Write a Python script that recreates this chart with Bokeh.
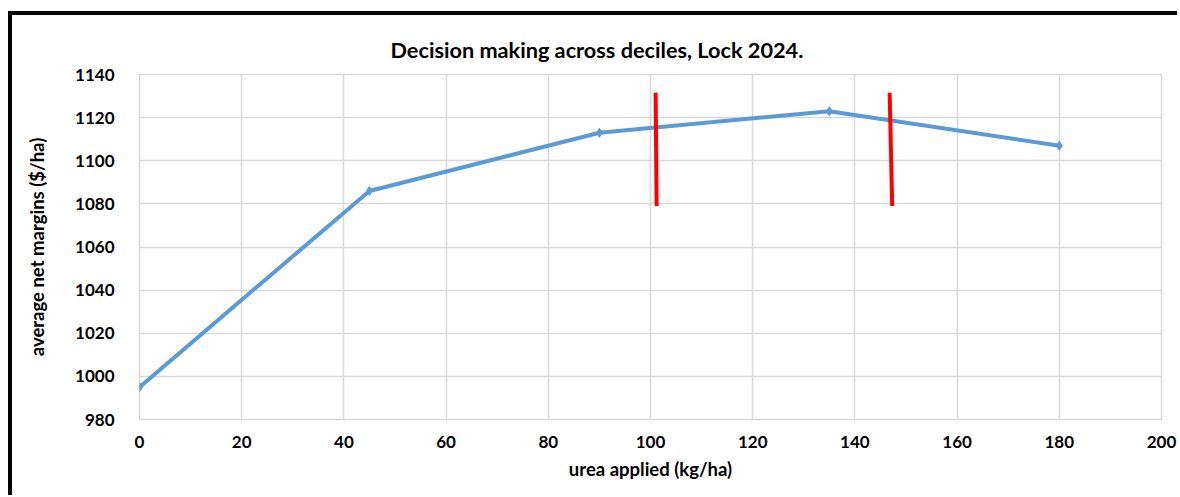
from bokeh.plotting import figure
from bokeh.models import Range1d, FixedTicker
from bokeh.embed import file_html
from bokeh.resources import INLINE

# data
urea = [0, 45, 90, 135, 180]
net_margin = [995, 1086, 1113, 1123, 1107]

# red decision markers
dec_x0 = [101.0, 146.8]
dec_x1 = [101.2, 147.3]
dec_y0 = [1131.5, 1131.5]
dec_y1 = [1079, 1079]

x_ticks = [0, 20, 40, 60, 80, 100, 120, 140, 160, 180, 200]
y_ticks = [980, 1000, 1020, 1040, 1060, 1080, 1100, 1120, 1140]

TITLE = "Decision making across deciles, Lock 2024."
FONT = "Lato"

p = figure(
    frame_width=1022, frame_height=345,
    min_border_left=127, min_border_right=16, min_border_top=59, min_border_bottom=76,
    x_range=Range1d(0, 200), y_range=Range1d(980, 1140),
    output_backend="svg", toolbar_location=None,
    title=TITLE,
)
p.styles = {"border-left": "4px solid black", "border-top": "4px solid black"}
p.margin = (11, 0, 0, 8)

p.title.align = "left"
p.title.offset = 251
p.title.vertical_align = "top"
p.title.text_font = FONT
p.title.text_font_size = "21.7px"
p.title.text_font_style = "bold"
p.title.text_color = "#000000"
p.title.standoff = 20

p.outline_line_color = "#d9d9d9"
p.outline_line_width = 1.5
for ax in (p.xaxis, p.yaxis):
    ax.axis_line_color = None
    ax.major_tick_line_color = None
    ax.minor_tick_line_color = None
    ax.major_label_text_font = FONT
    ax.major_label_text_font_style = "bold"
    ax.major_label_text_font_size = "17px"
    ax.major_label_text_color = "#000000"
    ax.axis_label_text_font = FONT
    ax.axis_label_text_font_style = "bold"
    ax.axis_label_text_font_size = "18.5px"
    ax.axis_label_text_color = "#000000"

p.xaxis.ticker = FixedTicker(ticks=x_ticks)
p.yaxis.ticker = FixedTicker(ticks=y_ticks)
p.xaxis.axis_label = "urea applied (kg/ha)"
p.yaxis.axis_label = "average net margins ($/ha)"
p.xaxis.major_label_standoff = 10
p.yaxis.major_label_standoff = 19
p.xaxis.axis_label_standoff = 7
p.yaxis.axis_label_standoff = 24

p.grid.grid_line_color = "#d9d9d9"
p.grid.grid_line_width = 1.5

p.line(urea, net_margin, line_color="#5b9bd5", line_width=4)
p.scatter(urea, net_margin, marker="diamond", size=9, color="#5b9bd5")
p.segment(x0=dec_x0, y0=dec_y0, x1=dec_x1, y1=dec_y1, line_color="#ff0000", line_width=4)

open("out.html", "w").write(file_html(p, INLINE))
